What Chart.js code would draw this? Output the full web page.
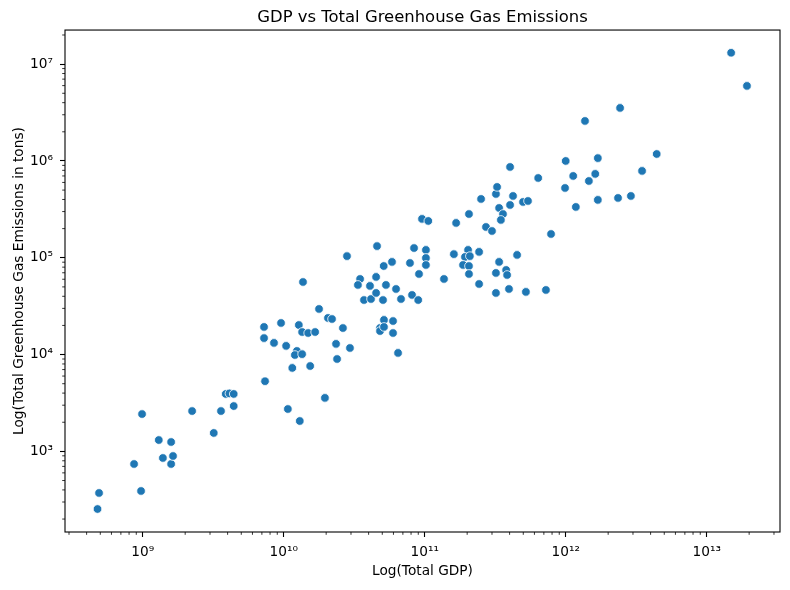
<!DOCTYPE html>
<html>
<head>
<meta charset="utf-8">
<script src="https://cdn.jsdelivr.net/npm/chart.js@4.4.1/dist/chart.umd.min.js"></script>
<style>
  html, body { margin: 0; padding: 0; background: #fff; }
  #wrap { width: 790px; height: 590px; }
</style>
</head>
<body>
<div id="wrap"><canvas id="chart"></canvas></div>
<script>
// Total GDP per country (x) and total greenhouse gas emissions in tons (y),
// read off the reference picture point by point.
const gdp = [
  4.78e8, 4.90e8, 8.68e8, 9.73e8, 9.89e8, 1.30e9, 1.39e9, 1.59e9, 1.59e9, 1.64e9,
  2.24e9, 3.19e9, 3.59e9, 3.88e9, 4.12e9, 4.42e9, 4.42e9, 7.37e9, 1.07e10, 1.30e10,
  1.96e10, 1.15e10, 1.54e10, 7.25e9, 7.25e9, 8.53e9, 9.57e9, 1.04e10, 1.24e10, 1.20e10,
  1.35e10, 1.28e10, 1.35e10, 1.49e10, 1.67e10, 1.78e10, 2.06e10, 2.20e10, 2.63e10, 2.35e10,
  2.95e10, 2.39e10, 1.37e10, 2.81e10, 3.48e10, 3.36e10, 4.52e10, 4.09e10, 3.71e10, 4.16e10,
  4.52e10, 4.59e10, 5.12e10, 5.86e10, 5.31e10, 5.06e10, 6.26e10, 6.79e10, 8.13e10, 8.99e10,
  5.14e10, 5.96e10, 4.82e10, 4.82e10, 5.14e10, 5.96e10, 6.47e10, 7.86e10, 8.40e10, 9.11e10,
  1.02e11, 1.02e11, 1.02e11, 9.57e10, 1.06e11, 1.37e11, 1.61e11, 1.67e11, 2.03e11, 1.93e11,
  2.09e11, 1.87e11, 2.06e11, 2.06e11, 2.06e11, 2.43e11, 2.43e11, 2.72e11, 3.00e11, 2.51e11,
  3.20e11, 3.26e11, 3.37e11, 3.59e11, 3.47e11, 4.03e11, 4.23e11, 4.03e11, 4.98e11, 5.40e11,
  6.38e11, 3.37e11, 4.52e11, 3.78e11, 3.84e11, 3.20e11, 3.20e11, 3.96e11, 5.22e11, 7.24e11,
  7.87e11, 9.89e11, 1.00e12, 1.13e12, 1.18e12, 1.37e12, 1.46e12, 1.62e12, 1.69e12, 1.69e12,
  2.35e12, 2.43e12, 2.90e12, 3.48e12, 4.42e12, 1.49e13, 1.93e13,
];
const emissions = [
  254, 372, 741, 390, 2430, 1310, 855, 1250, 741, 896,
  2610, 1550, 2610, 3920, 3970, 3920, 2940, 5310, 2740, 2060,
  3570, 7280, 7620, 19300, 14800, 13200, 21200, 12300, 10900, 9900,
  10100, 20200, 17100, 16700, 17100, 29600, 23900, 23300, 18800, 12900,
  11700, 9000, 56200, 104000, 60400, 52400, 63400, 51200, 36600, 37500,
  43300, 132000, 82200, 90600, 52400, 36600, 47600, 37500, 41300, 36600,
  22800, 22200, 18800, 17500, 19300, 16700, 10400, 88300, 126000, 68000,
  120500, 99500, 84300, 252000, 240000, 60400, 109000, 229000, 120500, 102000,
  104000, 84300, 82200, 68000, 283000, 115000, 53600, 208000, 189000, 405000,
  456000, 539000, 327000, 283000, 246000, 351000, 435000, 867000, 377000, 386000,
  667000, 90600, 107000, 74800, 66400, 69700, 43300, 47600, 44400, 46500,
  176000, 526000, 1000000, 700000, 335000, 2590000, 621000, 735000, 1070000, 396000,
  415000, 3530000, 435000, 789000, 1180000, 13100000, 5960000,
];

// Labelled decades on each axis (10^n)
const xTickPowers = [9, 10, 11, 12, 13];
const yTickPowers = [3, 4, 5, 6, 7];

const superDigits = { 0: "⁰", 1: "¹", 2: "²", 3: "³", 4: "⁴", 5: "⁵", 6: "⁶", 7: "⁷", 8: "⁸", 9: "⁹" };
const powLabel = (p) => "10" + String(p).split("").map((d) => superDigits[d]).join("");

Chart.defaults.font.family = "'DejaVu Sans', sans-serif";
Chart.defaults.color = "#000";

// matplotlib-like frame on all four sides plus the small unlabelled log ticks
const frameAndMinorTicks = {
  id: "frameAndMinorTicks",
  afterDraw(chart) {
    const { ctx, chartArea: a, scales } = chart;
    ctx.save();
    ctx.strokeStyle = "#000";
    ctx.lineWidth = 0.8;
    ctx.beginPath();
    for (const id of ["x", "y"]) {
      const s = scales[id];
      const lo = Math.floor(Math.log10(s.min));
      const hi = Math.ceil(Math.log10(s.max));
      for (let p = lo; p <= hi; p++) {
        for (let k = 2; k <= 9; k++) {
          const v = k * 10 ** p;
          if (v <= s.min || v >= s.max) continue;
          const px = s.getPixelForValue(v);
          if (id === "x") {
            ctx.moveTo(px, a.bottom);
            ctx.lineTo(px, a.bottom + 2.8);
          } else {
            ctx.moveTo(a.left - 2.8, px);
            ctx.lineTo(a.left, px);
          }
        }
      }
    }
    ctx.stroke();
    ctx.lineWidth = 1.1;
    ctx.strokeRect(a.left, a.top, a.right - a.left, a.bottom - a.top);
    ctx.restore();
  },
};

const tickGrid = {
  display: true,
  drawOnChartArea: false,
  drawTicks: true,
  tickLength: 5,
  tickWidth: 1.1,
  tickColor: "#000",
};

// eslint-disable-next-line no-new
new Chart(document.getElementById("chart"), {
  type: "scatter",
  plugins: [frameAndMinorTicks],
  data: {
    datasets: [
      {
        label: "Countries",
        data: gdp.map((g, i) => ({ x: g, y: emissions[i] })),
        backgroundColor: "#1f77b4",
        borderColor: "#ffffff",
        borderWidth: 0.8,
        pointRadius: 4.3,
        pointHoverRadius: 4.3,
      },
    ],
  },
  options: {
    animation: false,
    responsive: true,
    maintainAspectRatio: false,
    layout: { padding: { left: 0, right: 10, top: 0, bottom: 0 } },
    plugins: {
      legend: { display: false },
      tooltip: { enabled: false },
      title: {
        display: true,
        text: "GDP vs Total Greenhouse Gas Emissions",
        fullSize: false,
        color: "#000",
        font: { size: 16.45, weight: "normal" },
        padding: { top: 7.4, bottom: 2.9 },
      },
    },
    scales: {
      x: {
        type: "logarithmic",
        min: 2.81e8,
        max: 3.31e13,
        afterBuildTicks: (s) => {
          s.ticks = xTickPowers.map((p) => ({ value: 10 ** p }));
        },
        afterFit: (s) => {
          s.height = 58;
        },
        ticks: {
          autoSkip: false,
          maxRotation: 0,
          padding: 7,
          font: { size: 13.7 },
          callback: (v) => powLabel(Math.round(Math.log10(v))),
        },
        grid: tickGrid,
        border: { display: false },
        title: {
          display: true,
          text: "Log(Total GDP)",
          font: { size: 13.7 },
          padding: { top: 0, bottom: 10.3 },
        },
      },
      y: {
        type: "logarithmic",
        min: 147,
        max: 2.25e7,
        afterBuildTicks: (s) => {
          s.ticks = yTickPowers.map((p) => ({ value: 10 ** p }));
        },
        afterFit: (s) => {
          s.width = 65;
        },
        ticks: {
          autoSkip: false,
          padding: 7,
          font: { size: 13.7 },
          callback: (v) => powLabel(Math.round(Math.log10(v))),
        },
        grid: tickGrid,
        border: { display: false },
        title: {
          display: true,
          text: "Log(Total Greenhouse Gas Emissions in tons)",
          font: { size: 13.7 },
          padding: { top: 11.3, bottom: 0 },
        },
      },
    },
  },
});
</script>
</body>
</html>
